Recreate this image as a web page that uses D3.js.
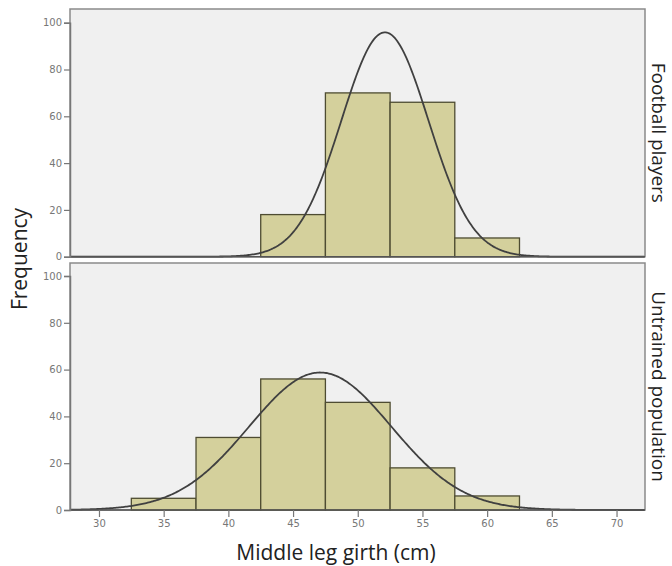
<!DOCTYPE html>
<html><head><meta charset="utf-8">
<script src="https://cdn.jsdelivr.net/npm/d3@7"></script>
<style>body{margin:0;background:#fff}svg{display:block}</style>
</head><body><svg id="c" width="672" height="566"></svg>
<script>
const groups = ["Football players", "Untrained population"];
const binStarts = [32.5, 37.5, 42.5, 47.5, 52.5, 57.5];
const binWidth = 5;
const footballCounts = [0, 0, 18, 70, 66, 8];
const untrainedCounts = [5, 31, 56, 46, 18, 6];
const curveMeans = [52.1, 47.1];
const curveSDs = [3.37, 5.5];
const xTicks = [30, 35, 40, 45, 50, 55, 60, 65, 70];
const yTicks = [0, 20, 40, 60, 80, 100];

const counts = [footballCounts, untrainedCounts];
const svg = d3.select("#c");
const left = 70, right = 645;
const panels = [{top: 9, zero: 256.7}, {top: 263, zero: 510}];
const x = d3.scaleLinear().domain([27.76, 72.2]).range([left, right]);
const titleFont = "Open Sans";

panels.forEach((p, gi) => {
  const y = d3.scaleLinear().domain([0, 100]).range([p.zero, p.zero - 234]);
  const g = svg.append("g");
  g.append("rect").attr("x", left).attr("y", p.top).attr("width", right - left)
    .attr("height", p.zero - p.top).attr("fill", "#f0f0f0").attr("stroke", "#8a8a8a").attr("stroke-width", 1.5);
  const data = binStarts.map((b, i) => ({b, c: counts[gi][i]})).filter(d => d.c > 0);
  g.selectAll("rect.bar").data(data).join("rect").attr("class", "bar")
    .attr("x", d => x(d.b)).attr("width", d => x(d.b + binWidth) - x(d.b))
    .attr("y", d => y(d.c)).attr("height", d => y(0) - y(d.c))
    .attr("fill", "#d4d09c").attr("stroke", "#4e4c32").attr("stroke-width", 1.3);
  const N = d3.sum(counts[gi]);
  const m = curveMeans[gi], s = curveSDs[gi];
  const pts = d3.range(27.76, 72.21, 0.1).map(v => [v, N * binWidth / (s * Math.sqrt(2 * Math.PI)) * Math.exp(-((v - m) ** 2) / (2 * s * s))]);
  g.append("path").datum(pts).attr("fill", "none").attr("stroke", "#404040").attr("stroke-width", 1.8)
    .attr("d", d3.line().x(d => x(d[0])).y(d => y(d[1])));
  g.append("line").attr("x1", left).attr("x2", right).attr("y1", y(0)).attr("y2", y(0))
    .attr("stroke", "#555").attr("stroke-width", 1.6);
  const ya = g.append("g").attr("transform", `translate(${left},0)`)
    .call(d3.axisLeft(y).tickValues(yTicks).tickSize(6).tickPadding(2));
  ya.select(".domain").attr("stroke", "#777").attr("stroke-width", 1.5);
  ya.selectAll(".tick line").attr("stroke", "#777").attr("stroke-width", 1.2);
  ya.selectAll("text").attr("fill", "#777").style("font-family", "DejaVu Sans").style("font-size", "10px");
  svg.append("text").attr("transform", `translate(657,${(p.top + p.zero) / 2}) rotate(90)`)
    .attr("text-anchor", "middle").attr("dominant-baseline", "middle")
    .style("font-family", titleFont).style("font-size", "19px").attr("fill", "#222").text(groups[gi]);
  if (gi === 1) {
    const xa = g.append("g").attr("transform", `translate(0,${p.zero})`)
      .call(d3.axisBottom(x).tickValues(xTicks).tickSize(7).tickPadding(3));
    xa.select(".domain").remove();
    xa.selectAll(".tick line").attr("stroke", "#777").attr("stroke-width", 1.2);
    xa.selectAll("text").attr("fill", "#777").style("font-family", "DejaVu Sans").style("font-size", "10px");
  }
});
svg.append("text").attr("transform", "translate(21,259) rotate(-90)").attr("text-anchor", "middle")
  .attr("dominant-baseline", "middle").style("font-family", titleFont).style("font-size", "21px").attr("fill", "#222").text("Frequency");
svg.append("text").attr("x", 336).attr("y", 560).attr("text-anchor", "middle")
  .style("font-family", titleFont).style("font-size", "21px").attr("fill", "#222").text("Middle leg girth (cm)");
</script></body></html>
